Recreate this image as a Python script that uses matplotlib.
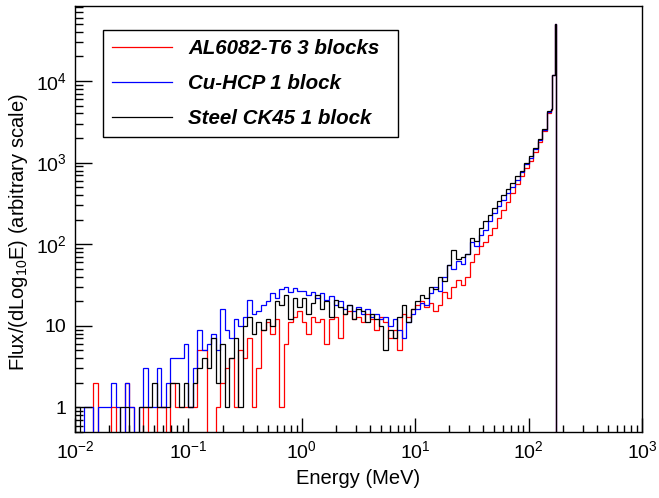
import matplotlib
matplotlib.use("Agg")
import matplotlib.pyplot as plt
import numpy as np

# log-spaced energy bins, 25 per decade up to 10^2.2 MeV, then the beam-energy peak
edges = np.concatenate([np.logspace(-2, 2.2, 106), [161.0, 171.0, 174.0]])

al6082 = [
    0, 0, 0, 0, 2, 0, 0, 0, 1, 0, 0, 2, 1, 0, 0, 1, 0, 0, 1, 1, 0, 2, 1, 1, 1,
    1, 1, 5, 5, 0, 0, 1, 2, 3, 4, 1, 5, 4, 7, 1, 3, 9, 11, 8, 12, 1, 6, 11, 13, 15,
    11, 8, 13, 11, 12, 6, 12, 13, 7, 14, 15, 12, 13, 11, 14, 12, 9, 13, 11, 7, 9, 5, 14, 13, 16,
    18, 20, 17, 19, 15, 18, 26, 22, 30, 36, 32, 40, 60, 75, 95, 105, 130, 160, 210, 260, 330, 420, 540, 680, 850,
    1050, 1350, 1800, 2450, 4100,
    4400, 12000, 50000,
]
cu_hcp = [
    0, 0, 1, 1, 0, 1, 1, 1, 2, 1, 0, 2, 1, 0, 1, 3, 1, 1, 3, 1, 2, 4, 4, 4, 6,
    1, 3, 9, 5, 6, 8, 5, 16, 9, 7, 12, 10, 13, 21, 14, 15, 18, 20, 25, 22, 28, 30, 26, 29, 27,
    27, 24, 26, 22, 25, 21, 23, 18, 20, 16, 18, 15, 17, 14, 16, 13, 14, 12, 13, 10, 12, 9, 7, 11, 14,
    16, 19, 18, 25, 30, 27, 40, 55, 50, 62, 58, 75, 105, 95, 130, 150, 190, 240, 290, 350, 430, 500, 620, 760, 950,
    1150, 1450, 1900, 2500, 4200,
    4500, 12000, 50000,
]
steel_ck45 = [
    1, 0, 0, 0, 0, 0, 0, 0, 0, 0, 1, 1, 0, 0, 1, 1, 1, 2, 1, 1, 1, 2, 2, 1, 2,
    1, 2, 3, 4, 3, 7, 2, 6, 1, 4, 7, 1, 10, 13, 8, 11, 9, 12, 10, 20, 18, 24, 12, 22, 17,
    22, 14, 19, 24, 16, 20, 13, 21, 17, 14, 18, 12, 16, 15, 11, 14, 12, 10, 5, 9, 7, 13, 18, 11, 16,
    20, 24, 22, 30, 28, 40, 35, 55, 85, 65, 70, 75, 120, 110, 160, 190, 230, 280, 340, 400, 480, 560, 680, 800, 980,
    1200, 1500, 1950, 2600, 4300,
    4600, 12000, 50000,
]

series_labels = ["AL6082-T6 3 blocks", "Cu-HCP 1 block", "Steel CK45 1 block"]
series_colors = ["#ff0000", "#0000ff", "#000000"]

xticks = [1e-2, 1e-1, 1e0, 1e1, 1e2, 1e3]
xticklabels = ["$10^{-2}$", "$10^{-1}$", "$10^{0}$", "$10^{1}$", "$10^{2}$", "$10^{3}$"]
yticks = [1, 10, 100, 1000, 10000]
yticklabels = ["1", "10", "$10^{2}$", "$10^{3}$", "$10^{4}$"]

plt.rcParams["font.family"] = ["Liberation Sans", "DejaVu Sans"]
plt.rcParams["mathtext.fontset"] = "custom"
plt.rcParams["mathtext.rm"] = "Liberation Sans"
plt.rcParams["mathtext.it"] = "Liberation Sans:italic"
plt.rcParams["mathtext.bf"] = "Liberation Sans:bold"

fig = plt.figure(figsize=(6.59, 4.98), dpi=100)
ax = fig.add_axes([75 / 659, 1 - 432 / 498, 567 / 659, 426 / 498])

for vals, label, color in zip([al6082, cu_hcp, steel_ck45], series_labels, series_colors):
    ax.stairs(vals, edges, color=color, linewidth=0.9, label=label, baseline=0)

ax.set_xscale("log")
ax.set_yscale("log")
ax.set_xlim(1e-2, 1e3)
ax.set_ylim(0.5, 8.3e4)

ax.set_xticks(xticks)
ax.set_xticklabels(xticklabels)
ax.set_yticks(yticks)
ax.set_yticklabels(yticklabels)
ax.tick_params(which="both", direction="in", top=False, right=False, labelsize=14, width=1)
ax.tick_params(axis="x", which="major", length=10, pad=6)
ax.tick_params(axis="x", which="minor", length=5)
ax.tick_params(axis="y", which="major", length=12, pad=6)
ax.tick_params(axis="y", which="minor", length=6)
for sp in ax.spines.values():
    sp.set_linewidth(1)

ax.set_xlabel("Energy (MeV)", fontsize=14.5, labelpad=5)
ax.set_ylabel("Flux/(dLog$_{10}$E) (arbitrary scale)", fontsize=14.5)
ax.yaxis.set_label_coords(-0.079, 0.47)

leg = ax.legend(loc="upper left", bbox_to_anchor=(0.049, 0.692, 0.520, 0.252), mode="expand",
                fancybox=False, edgecolor="black", framealpha=1, borderpad=0.45,
                handlelength=2.9, handletextpad=0.8, labelspacing=0.78, borderaxespad=0,
                prop={"weight": "bold", "style": "italic", "size": 14.8})
leg.get_frame().set_linewidth(1)

fig.savefig("out.png", dpi=100)
